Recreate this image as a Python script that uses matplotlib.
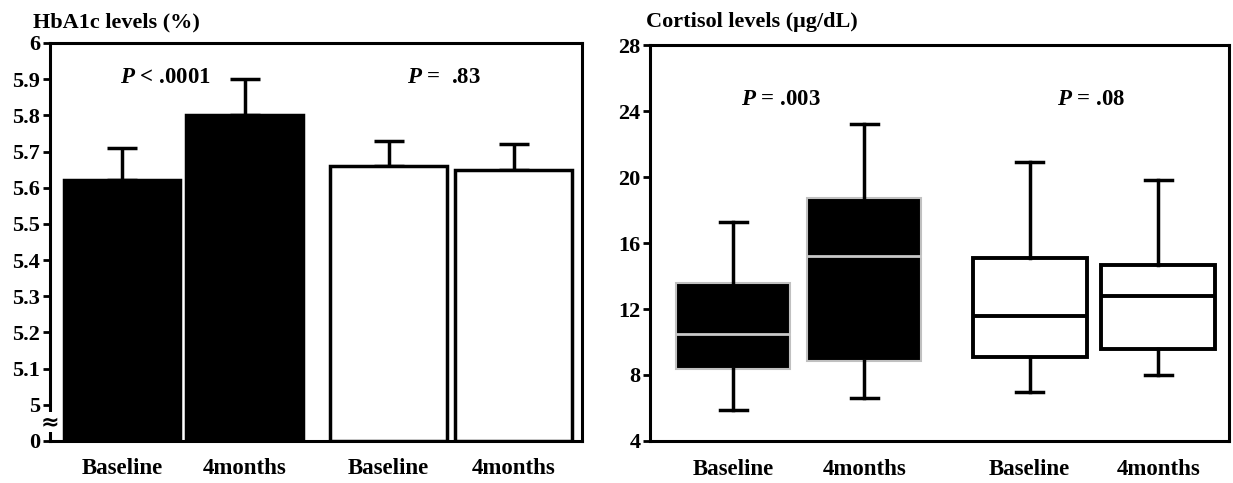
import matplotlib
matplotlib.use("Agg")
import matplotlib.pyplot as plt

plt.rcParams['font.family'] = ['Liberation Serif', 'DejaVu Serif']
plt.rcParams['font.weight'] = 'bold'
plt.rcParams['mathtext.fontset'] = 'custom'
plt.rcParams['mathtext.it'] = 'Liberation Serif:italic:bold'
plt.rcParams['mathtext.rm'] = 'Liberation Serif:bold'

# HbA1c panel
groups = ["Baseline", "4months", "Baseline", "4months"]
hba1c_mean = [5.62, 5.80, 5.66, 5.65]
hba1c_err = [0.09, 0.10, 0.07, 0.07]
hba1c_colors = ["black", "black", "white", "white"]
hba1c_ticks = [4.9, 5.0, 5.1, 5.2, 5.3, 5.4, 5.5, 5.6, 5.7, 5.8, 5.9, 6.0]
hba1c_ticklabels = ["0", "5", "5.1", "5.2", "5.3", "5.4", "5.5", "5.6", "5.7", "5.8", "5.9", "6"]
hba1c_p = ["$P$ < .0001", "$P$ =  .83"]

# Cortisol panel (whisker low, Q1, median, Q3, whisker high)
cort_low = [5.9, 6.6, 7.0, 8.0]
cort_q1 = [8.35, 8.85, 9.1, 9.55]
cort_med = [10.5, 15.2, 11.55, 12.8]
cort_q3 = [13.6, 18.7, 15.1, 14.65]
cort_high = [17.25, 23.2, 20.9, 19.8]
cort_ticks = [4, 8, 12, 16, 20, 24, 28]
cort_p = ["$P$ = .003", "$P$ = .08"]

fig = plt.figure(figsize=(12.33, 4.83), dpi=100)

# ---- left: bar chart with broken axis ----
ax1 = fig.add_axes([50/1233, 42/483, 532/1233, 398/483])
xpos = [0.61, 1.65, 2.87, 3.93]
base = 4.9
ax1.bar(xpos, [m - base for m in hba1c_mean], bottom=base, width=0.99,
        color=hba1c_colors, edgecolor="black", linewidth=2.5, zorder=3)
ax1.errorbar(xpos, hba1c_mean, yerr=[[0]*4, hba1c_err], fmt="none",
             ecolor="black", elinewidth=2.5, capsize=11, capthick=2.5, zorder=2)
ax1.set_xlim(0, 4.51)
ax1.set_ylim(4.9, 6.0)
ax1.set_yticks(hba1c_ticks)
ax1.set_yticklabels(hba1c_ticklabels)
ax1.set_xticks(xpos)
ax1.set_xticklabels(groups)
ax1.tick_params(axis="y", direction="out", length=5, width=2, labelsize=16, pad=2)
ax1.tick_params(axis="x", length=0, labelsize=16.5, pad=12)
for s in ax1.spines.values():
    s.set_linewidth(2.2)
ax1.text(0.975, 5.905, hba1c_p[0], ha="center", va="center", fontsize=16.5)
ax1.text(3.34, 5.905, hba1c_p[1], ha="center", va="center", fontsize=16.5)
# axis break mark
ax1.text(0.0, 4.952, "\u2248", transform=ax1.get_yaxis_transform(), ha="center",
         va="center", fontsize=16, family="DejaVu Sans", zorder=5,
         bbox=dict(facecolor="white", edgecolor="none", pad=0.2))
fig.text(33/1233, 1 - 22/483, "HbA1c levels (%)", ha="left", va="center", fontsize=16)

# ---- right: box plots ----
ax2 = fig.add_axes([650/1233, 42/483, 579/1233, 396/483])
bpos = [0.73, 1.88, 3.33, 4.46]
stats = []
for i in range(4):
    stats.append(dict(whislo=cort_low[i], q1=cort_q1[i], med=cort_med[i],
                      q3=cort_q3[i], whishi=cort_high[i], fliers=[]))
bp = ax2.bxp(stats, positions=bpos, widths=1.0, patch_artist=True, showfliers=False,
             capwidths=0.24,
             whiskerprops=dict(color="black", linewidth=2.5),
             capprops=dict(color="black", linewidth=2.5))
for i, box in enumerate(bp["boxes"]):
    if i < 2:
        box.set_facecolor("black")
        box.set_edgecolor("#c0c0c0")
        box.set_linewidth(1.5)
        bp["medians"][i].set_color("#c8c8c8")
        bp["medians"][i].set_linewidth(2)
    else:
        box.set_facecolor("white")
        box.set_edgecolor("black")
        box.set_linewidth(2.8)
        bp["medians"][i].set_color("black")
        bp["medians"][i].set_linewidth(2.8)
ax2.set_xlim(0, 5.08)
ax2.set_ylim(4, 28)
ax2.set_yticks(cort_ticks)
ax2.set_xticks(bpos)
ax2.set_xticklabels(groups)
ax2.tick_params(axis="y", direction="out", length=5, width=2, labelsize=16, pad=2)
ax2.tick_params(axis="x", length=0, labelsize=16.5, pad=13)
for s in ax2.spines.values():
    s.set_linewidth(2.2)
ax2.text(1.15, 24.7, cort_p[0], ha="center", va="center", fontsize=16.5)
ax2.text(3.87, 24.7, cort_p[1], ha="center", va="center", fontsize=16.5)
fig.text(646/1233, 1 - 22/483, "Cortisol levels (\u03bcg/dL)", ha="left", va="center", fontsize=16)

fig.savefig("out.png", dpi=100)
